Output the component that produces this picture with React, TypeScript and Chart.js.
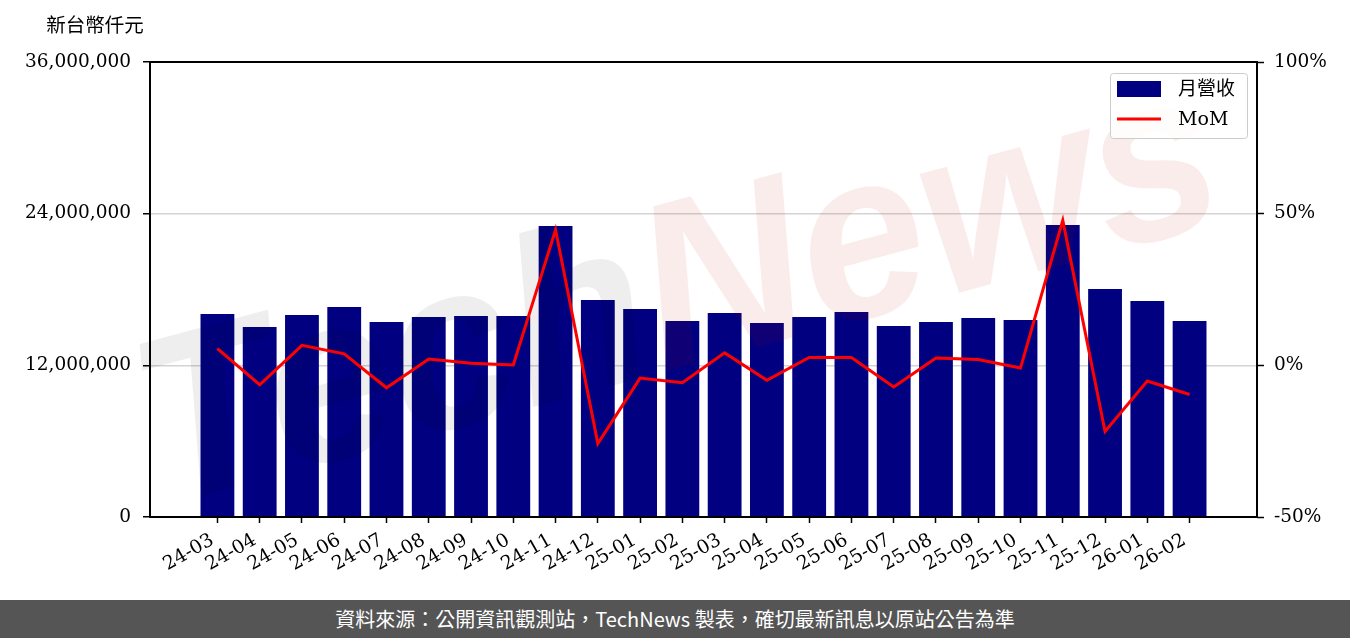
import React, { useEffect, useRef } from 'react';
import { Chart, registerables } from 'chart.js';

Chart.register(...registerables);

const labels = [
  '24-03', '24-04', '24-05', '24-06', '24-07', '24-08', '24-09', '24-10', '24-11', '24-12',
  '25-01', '25-02', '25-03', '25-04', '25-05', '25-06', '25-07', '25-08', '25-09', '25-10',
  '25-11', '25-12', '26-01', '26-02',
];

// 月營收 (新台幣仟元)
const revenue = [
  16060000, 15030000, 15980000, 16620000, 15430000, 15820000, 15900000, 15900000, 23020000, 17170000,
  16460000, 15510000, 16140000, 15350000, 15820000, 16220000, 15110000, 15430000, 15740000, 15590000,
  23100000, 18040000, 17090000, 15510000,
];

// MoM (%)
const mom = [
  5.5, -6.4, 6.6, 3.8, -7.4, 2.1, 0.7, 0.1, 44.7, -25.8,
  -4.2, -5.7, 4.1, -4.9, 2.6, 2.6, -7.1, 2.4, 1.9, -0.9,
  47.8, -21.8, -5.2, -9.6,
];

const leftTicks = [0, 12000000, 24000000, 36000000];
const rightTicks = [-50, 0, 50, 100];

const yAxisTitle = '新台幣仟元';
const footerText = '資料來源：公開資訊觀測站，TechNews 製表，確切最新訊息以原站公告為準';

const SERIF = '"DejaVu Serif", "Noto Sans CJK TC", serif';
const FS = 18.5;

const framePlugin = {
  id: 'frame',
  afterDraw(chart: any) {
    const { ctx, chartArea: a } = chart;
    ctx.save();
    ctx.strokeStyle = '#000';
    ctx.lineWidth = 2;
    ctx.strokeRect(a.left, a.top, a.right - a.left, a.bottom - a.top);
    ctx.restore();
  },
};

const watermarkPlugin = {
  id: 'watermark',
  afterDatasetDraw(chart: any, args: any) {
    if (args.index !== 0) return;
    const { ctx } = chart;
    ctx.save();
    ctx.translate(680, 300);
    ctx.rotate((-15 * Math.PI) / 180);
    ctx.scale(1.05, 1.1);
    ctx.font = 'bold italic 215px "Liberation Sans", sans-serif';
    ctx.textBaseline = 'middle';
    const w1 = ctx.measureText('Tech').width;
    const w2 = ctx.measureText('News').width;
    const start = -(w1 + w2) / 2;
    ctx.textAlign = 'left';
    ctx.fillStyle = 'rgba(0,0,0,0.065)';
    ctx.fillText('Tech', start, 0);
    ctx.fillStyle = 'rgba(200,0,0,0.075)';
    ctx.fillText('News', start + w1, 0);
    ctx.restore();
  },
};

const legendPlugin = {
  id: 'customLegend',
  afterDraw(chart: any) {
    const { ctx } = chart;
    const ds = chart.data.datasets;
    const x = 1110, y = 73, w = 137, h = 65;
    ctx.save();
    ctx.fillStyle = 'rgba(255,255,255,0.8)';
    ctx.strokeStyle = '#cccccc';
    ctx.lineWidth = 1;
    ctx.beginPath();
    (ctx as any).roundRect(x + 0.5, y + 0.5, w, h, 3);
    ctx.fill();
    ctx.stroke();
    ctx.font = `19px ${SERIF}`;
    ctx.textBaseline = 'middle';
    ctx.textAlign = 'left';
    ctx.fillStyle = ds[0].backgroundColor;
    ctx.fillRect(1117, 81, 44, 16);
    ctx.fillStyle = '#000';
    ctx.fillText(ds[0].label, 1178, 90);
    ctx.strokeStyle = ds[1].borderColor;
    ctx.lineWidth = 3;
    ctx.beginPath();
    ctx.moveTo(1117, 119);
    ctx.lineTo(1161, 119);
    ctx.stroke();
    ctx.fillStyle = '#000';
    ctx.fillText(ds[1].label, 1178, 120);
    ctx.restore();
  },
};

const yTitlePlugin = {
  id: 'yTitle',
  afterDraw(chart: any) {
    const { ctx, chartArea: a } = chart;
    ctx.save();
    ctx.font = `19.5px ${SERIF}`;
    ctx.fillStyle = '#000';
    ctx.textAlign = 'center';
    ctx.textBaseline = 'middle';
    ctx.fillText(yAxisTitle, a.left - 55, 27);
    ctx.restore();
  },
};

export default function App() {
  const ref = useRef<HTMLCanvasElement>(null);

  useEffect(() => {
    document.body.style.margin = '0';
    const canvas = ref.current!;
    const chart = new Chart(canvas, {
      type: 'bar',
      data: {
        datasets: [
          {
            type: 'bar',
            label: '月營收',
            data: revenue.map((v, i) => ({ x: i, y: v })),
            backgroundColor: '#000080',
            borderWidth: 0,
            barPercentage: 0.8,
            categoryPercentage: 1,
            yAxisID: 'y',
            order: 1,
          } as any,
          {
            type: 'line',
            label: 'MoM',
            data: mom.map((v, i) => ({ x: i, y: v })),
            borderColor: '#ff0000',
            backgroundColor: '#ff0000',
            borderWidth: 3,
            pointRadius: 0,
            tension: 0,
            fill: false,
            yAxisID: 'y1',
            order: 0,
          } as any,
        ],
      },
      options: {
        responsive: false,
        animation: false,
        events: [],
        layout: { padding: { top: 62, left: 0, right: 0, bottom: 0 } },
        plugins: { legend: { display: false }, tooltip: { enabled: false } },
        scales: {
          x: {
            type: 'linear',
            min: -1.595,
            max: 24.595,
            offset: false,
            afterBuildTicks: (s: any) => {
              s.ticks = labels.map((_, i) => ({ value: i }));
            },
            afterFit: (s: any) => {
              s.height = 83;
            },
            ticks: {
              callback: (v: any) => labels[v] ?? '',
              minRotation: 30,
              maxRotation: 30,
              autoSkip: false,
              font: { family: SERIF, size: 19 },
              color: '#000',
              padding: 6,
              labelOffset: -5,
            },
            grid: {
              display: true,
              offset: false,
              drawOnChartArea: false,
              drawTicks: true,
              tickLength: 6,
              tickColor: '#000',
              tickWidth: 1.5,
            },
            border: { display: false },
          },
          y: {
            position: 'left',
            min: 0,
            max: 36000000,
            afterBuildTicks: (s: any) => {
              s.ticks = leftTicks.map((v) => ({ value: v }));
            },
            afterFit: (s: any) => {
              s.width = 150;
            },
            ticks: {
              callback: (v: any) => Number(v).toLocaleString('en-US'),
              font: { family: SERIF, size: FS },
              color: '#000',
              padding: 12,
            },
            grid: {
              color: '#d3d3d3',
              lineWidth: 1.5,
              tickColor: '#000',
              tickLength: 7,
              tickWidth: 1.5,
            },
            border: { display: false },
          },
          y1: {
            position: 'right',
            min: -50,
            max: 100,
            afterBuildTicks: (s: any) => {
              s.ticks = rightTicks.map((v) => ({ value: v }));
            },
            afterFit: (s: any) => {
              s.width = 93;
            },
            ticks: {
              callback: (v: any) => `${v}%`,
              font: { family: SERIF, size: FS },
              color: '#000',
              padding: 10,
            },
            grid: {
              drawOnChartArea: false,
              tickColor: '#000',
              tickLength: 7,
              tickWidth: 1.5,
            },
            border: { display: false },
          },
        },
      } as any,
      plugins: [watermarkPlugin, framePlugin, legendPlugin, yTitlePlugin],
    });
    return () => chart.destroy();
  }, []);

  return (
    <div style={{ width: 1350, height: 638, background: '#fff' }}>
      <canvas ref={ref} width={1350} height={600} style={{ display: 'block', width: 1350, height: 600 }} />
      <div
        lang="zh-TW"
        style={{
          width: 1350,
          height: 38,
          background: '#555555',
          color: '#fff',
          fontFamily: '"Noto Sans CJK TC"',
          fontSize: 20,
          lineHeight: '38px',
          textAlign: 'center',
        }}
      >
        {footerText}
      </div>
    </div>
  );
}
